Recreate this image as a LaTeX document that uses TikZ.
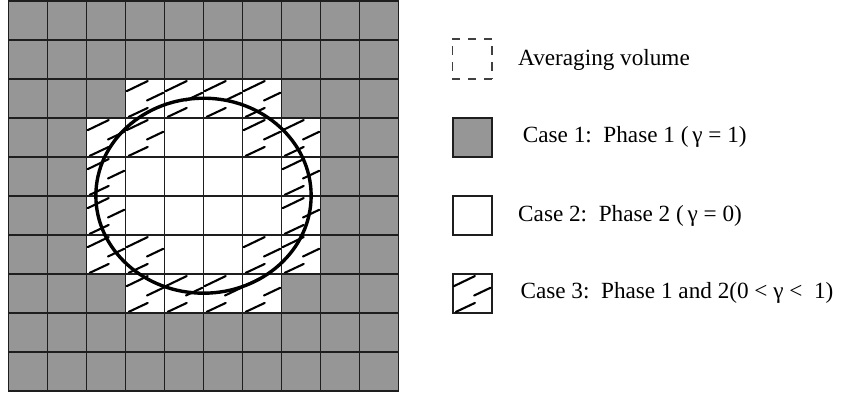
\documentclass[tikz,border=0pt]{standalone}
\usepackage{fontspec}
\setmainfont{Liberation Serif}
\usetikzlibrary{positioning}
\definecolor{phasegray}{RGB}{150,150,150}
\definecolor{linegray}{RGB}{30,30,30}

% one hatched (two-phase) cell, lower left corner at (#1,#2)
\newcommand{\hatchcell}[2]{%
  \draw[hatchdash] (#1+0.03,#2+0.68) -- (#1+0.57,#2+0.94);
  \draw[hatchdash] (#1+0.55,#2+0.44) -- (#1+0.97,#2+0.64);
  \draw[hatchdash] (#1+0.08,#2+0.02) -- (#1+0.57,#2+0.25);
}

\begin{document}
\begin{tikzpicture}[x=19.5pt, y=19.5pt,
    gridline/.style={line width=0.95pt, draw=linegray},
    hatchdash/.style={line width=1.05pt, line cap=round},
    interface/.style={line width=1.7pt, draw=black},
    legendbox/.style={draw=linegray, line width=0.9pt, minimum size=19.5pt, inner sep=0pt},
    avgdash/.style={draw=black!75, line width=0.8pt},
    legendtext/.style={anchor=mid west, inner sep=0pt, font=\fontsize{11.6}{14}\selectfont}]
    \useasboundingbox (-0.218,-0.085) rectangle (21.526,10.018);

    % =========================================================
    % MESH: 10 x 10 CELLS
    % =========================================================
    \fill[phasegray] (0,0) rectangle (10,10);
    \fill[white] (3,2) rectangle (7,8);
    \fill[white] (2,3) rectangle (8,7);

    % cells cut by the interface
    \foreach \c/\r in {3/7,4/7,5/7,6/7,3/2,4/2,5/2,6/2,
                       2/6,3/6,6/6,7/6,2/3,3/3,6/3,7/3,
                       2/5,7/5,2/4,7/4}
        {\hatchcell{\c}{\r}}

    \draw[gridline, step=1] (0,0) grid (10,10);
    \draw[gridline] (0,0) rectangle (10,10);

    % interface between the phases
    \draw[interface] (5,5) ellipse [x radius=2.76, y radius=2.5];

    % =========================================================
    % LEGEND
    % =========================================================
    % Averaging volume
    \node[minimum size=19.5pt, inner sep=0pt] (volbox) at (11.89,8.5) {};
    \draw[avgdash, dash pattern=on 4pt off 4pt] (volbox.north west) -- (volbox.north east);
    \draw[avgdash, dash pattern=on 4pt off 4pt] (volbox.south west) -- (volbox.south east);
    \draw[avgdash, dash pattern=on 4.5pt off 3.5pt, dash phase=4.5pt] (volbox.north west) -- (volbox.south west);
    \draw[avgdash, dash pattern=on 4.5pt off 3.5pt, dash phase=4.5pt] (volbox.north east) -- (volbox.south east);
    \node[legendtext] (voltext) at (13.06,8.45) {Averaging volume};

    % Case 1
    \node[legendbox, fill=phasegray] (caseonebox) at (11.89,6.5) {};
    \node[legendtext] (caseonetext) at (13.18,6.47) {Case 1:\ \ Phase 1 (\,γ = 1)};

    % Case 2
    \node[legendbox, fill=white] (casetwobox) at (11.89,4.5) {};
    \node[legendtext] (casetwotext) at (13.06,4.45) {Case 2:\ \ Phase 2 (\,γ = 0)};

    % Case 3
    \node[legendbox, fill=white] (casethreebox) at (11.89,2.5) {};
    \hatchcell{11.39}{2}
    \node[legendtext] (casethreetext) at (13.12,2.47) {Case 3:\ \ Phase 1 and 2(0 <\ γ <\ \ 1)};
\end{tikzpicture}
\end{document}
